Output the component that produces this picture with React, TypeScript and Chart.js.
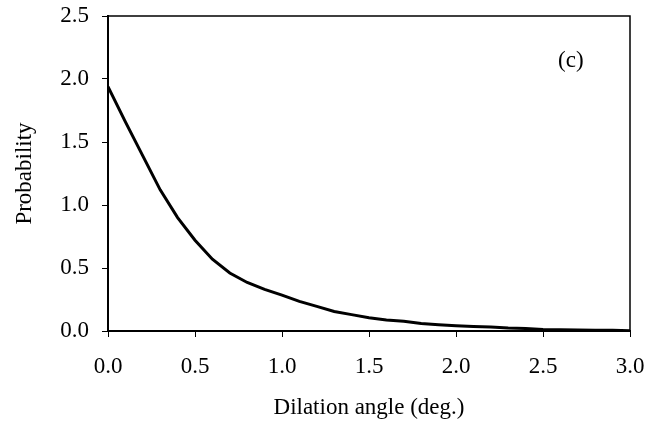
import React, { useEffect, useRef } from "react";
import { Chart, registerables } from "chart.js";

Chart.register(...registerables);

const angles: number[] = [
  0.0, 0.1, 0.2, 0.3, 0.4, 0.5, 0.6, 0.7, 0.8, 0.9, 1.0,
  1.1, 1.2, 1.3, 1.4, 1.5, 1.6, 1.7, 1.8, 1.9, 2.0,
  2.1, 2.2, 2.3, 2.4, 2.5, 2.6, 2.7, 2.8, 2.9, 3.0,
];
const probability: number[] = [
  1.94, 1.66, 1.39, 1.12, 0.9, 0.72, 0.57, 0.46, 0.385, 0.33, 0.285,
  0.235, 0.195, 0.155, 0.13, 0.105, 0.088, 0.077, 0.06, 0.05, 0.042,
  0.036, 0.031, 0.023, 0.019, 0.011, 0.009, 0.007, 0.006, 0.005, 0.002,
];
const xTicks: number[] = [0, 0.5, 1.0, 1.5, 2.0, 2.5, 3.0];
const yTicks: number[] = [0, 0.5, 1.0, 1.5, 2.0, 2.5];
const xTitle = "Dilation angle (deg.)";
const yTitle = "Probability";
const panelLabel = "(c)";
const panelPos = { x: 2.66, y: 2.14 };

const FONT = "'Liberation Serif', 'Times New Roman', serif";
const FS = 23;

export default function App() {
  const ref = useRef<HTMLCanvasElement | null>(null);

  useEffect(() => {
    document.body.style.margin = "0";
    const canvas = ref.current;
    if (!canvas) return;

    const framePlugin = {
      id: "frame",
      afterDraw(chart: any) {
        const { ctx, chartArea } = chart;
        ctx.save();
        ctx.strokeStyle = "#000";
        ctx.lineWidth = 1.5;
        ctx.beginPath();
        ctx.moveTo(chartArea.left, chartArea.top);
        ctx.lineTo(chartArea.right, chartArea.top);
        ctx.lineTo(chartArea.right, chartArea.bottom);
        ctx.stroke();
        const xs = chart.scales.x;
        const ys = chart.scales.y;
        ctx.fillStyle = "#000";
        ctx.font = `${FS}px ${FONT}`;
        ctx.textAlign = "center";
        ctx.textBaseline = "middle";
        ctx.fillText(panelLabel, xs.getPixelForValue(panelPos.x), ys.getPixelForValue(panelPos.y));
        ctx.restore();
      },
    };

    const chart = new Chart(canvas, {
      type: "line",
      data: {
        datasets: [
          {
            data: angles.map((a, i) => ({ x: a, y: probability[i] })),
            borderColor: "#000",
            borderWidth: 3,
            pointRadius: 0,
            tension: 0,
            fill: false,
          },
        ],
      },
      options: {
        responsive: false,
        animation: false,
        layout: { padding: { left: 0, top: 16, right: 31, bottom: 0 } },
        plugins: { legend: { display: false }, tooltip: { enabled: false } },
        scales: {
          x: {
            type: "linear",
            min: 0,
            max: 3,
            afterBuildTicks: (s: any) => {
              s.ticks = xTicks.map((v) => ({ value: v }));
            },
            afterFit: (s: any) => {
              s.height = 428 - 331;
              s.paddingLeft = 0;
              s.paddingRight = 0;
            },
            ticks: {
              color: "#000",
              font: { family: FONT, size: FS },
              padding: 16,
              maxRotation: 0,
              callback: (v: any) => Number(v).toFixed(1),
            },
            grid: {
              display: true,
              drawOnChartArea: false,
              drawTicks: true,
              tickLength: 6,
              color: "#000",
              lineWidth: 1,
            },
            border: { display: true, color: "#000", width: 2 },
            title: {
              display: true,
              text: xTitle,
              color: "#000",
              font: { family: FONT, size: FS },
              padding: { top: 0, bottom: 6 },
            },
          },
          y: {
            type: "linear",
            min: 0,
            max: 2.5,
            afterBuildTicks: (s: any) => {
              s.ticks = yTicks.map((v) => ({ value: v }));
            },
            afterFit: (s: any) => {
              s.width = 108;
              s.paddingTop = 0;
              s.paddingBottom = 0;
            },
            ticks: {
              color: "#000",
              font: { family: FONT, size: FS },
              padding: 13,
              callback: (v: any) => Number(v).toFixed(1),
            },
            grid: {
              display: true,
              drawOnChartArea: false,
              drawTicks: true,
              tickLength: 6,
              color: "#000",
              lineWidth: 1,
            },
            border: { display: true, color: "#000", width: 2 },
            title: {
              display: true,
              text: yTitle,
              color: "#000",
              font: { family: FONT, size: FS },
              padding: { top: 11, bottom: 0 },
            },
          },
        },
      },
      plugins: [framePlugin],
    });

    return () => chart.destroy();
  }, []);

  return (
    <div style={{ position: "absolute", left: 0, top: 0, width: 661, height: 428 }}>
      <canvas ref={ref} width={661} height={428} />
    </div>
  );
}
